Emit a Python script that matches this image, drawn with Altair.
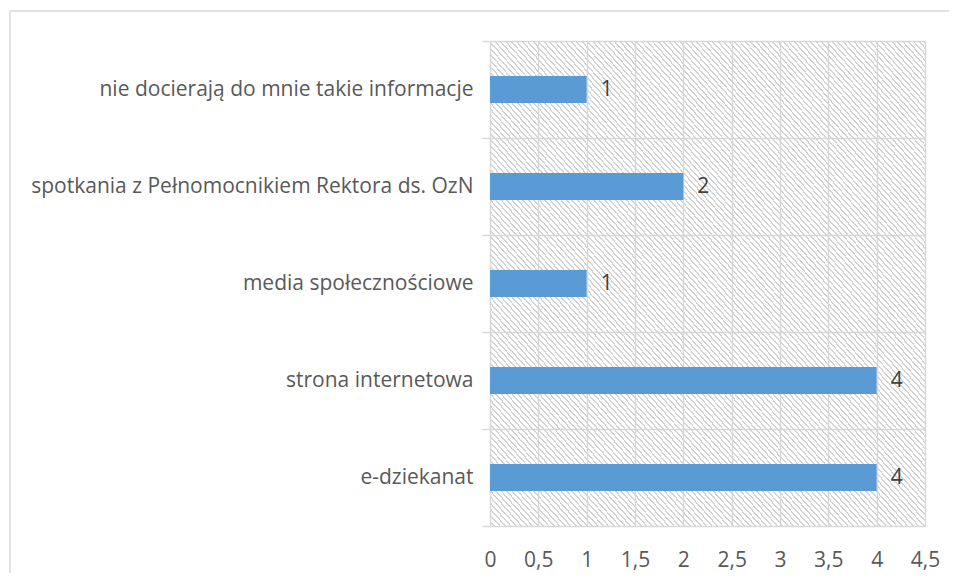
import altair as alt
import pandas as pd

# ---- data ----
categories = [
    "nie docierają do mnie takie informacje",
    "spotkania z Pełnomocnikiem Rektora ds. OzN",
    "media społecznościowe",
    "strona internetowa",
    "e-dziekanat",
]
values = [1, 2, 1, 4, 4]
x_ticks = [0, 0.5, 1, 1.5, 2, 2.5, 3, 3.5, 4, 4.5]

df = pd.DataFrame({"cat": categories, "value": values})
one = pd.DataFrame({"k": [0]})

W, H = 435, 485
PAD = {"left": 482, "top": 33, "right": 24, "bottom": 47}
FONT = "Open Sans"
FS = 21
GRID = "#d9d9d9"

# hatch pattern as a hard-stop linear gradient (decoration only)
N = 160
stops = []
for i in range(N):
    a = i / N
    b = (i + 0.66) / N
    c = (i + 1) / N
    stops += [
        alt.GradientStop(color="rgba(255,255,255,0)", offset=a),
        alt.GradientStop(color="rgba(255,255,255,0)", offset=b),
        alt.GradientStop(color="#d4d4d4", offset=b),
        alt.GradientStop(color="#d4d4d4", offset=c),
    ]
hatch_fill = alt.LinearGradient(gradient="linear", stops=stops, x1=0, y1=1, x2=1, y2=0)

y_enc = alt.Y(
    "cat:N",
    sort=categories,
    scale=alt.Scale(paddingInner=0, paddingOuter=0),
    axis=alt.Axis(
        title=None,
        tickBand="extent",
        ticks=True,
        tickSize=8,
        tickColor=GRID,
        tickWidth=1.5,
        grid=True,
        gridColor=GRID,
        gridWidth=1.5,
        domain=False,
        labelPadding=9,
        labelFontSize=FS,
        labelFont=FONT,
        labelColor="#595959",
        labelLimit=600,
    ),
)
x_enc = alt.X(
    "value:Q",
    scale=alt.Scale(domain=[0, 4.5], nice=False),
    axis=alt.Axis(
        title=None,
        values=x_ticks,
        grid=True,
        gridColor=GRID,
        gridWidth=1.5,
        ticks=False,
        domain=False,
        labelFlush=False,
        labelOverlap=False,
        labelPadding=23,
        labelFontSize=FS,
        labelFont=FONT,
        labelColor="#595959",
        labelExpr="replace(toString(datum.value), '.', ',')",
    ),
)

hatch = alt.Chart(one).mark_rect(fill=hatch_fill, strokeWidth=0).encode(
    x=alt.value(0), x2=alt.value("width"), y=alt.value(0), y2=alt.value("height")
)

bars = alt.Chart(df).mark_bar(
    color="#5b9bd5", height=alt.RelativeBandSize(band=0.28)
).encode(y=y_enc, x=x_enc)

labels = alt.Chart(df).mark_text(
    align="left", baseline="middle", dx=14, fontSize=FS, font=FONT, color="#404040"
).encode(y=alt.Y("cat:N", sort=categories), x="value:Q", text="value:Q")

frame_left = alt.Chart(one).mark_rule(color=GRID, strokeWidth=1.5).encode(
    x=alt.value(-480), y=alt.value(-30), y2=alt.value(H + PAD["bottom"])
)
frame_top = alt.Chart(one).mark_rule(color=GRID, strokeWidth=1.5).encode(
    x=alt.value(-480), x2=alt.value(W + PAD["right"]), y=alt.value(-30)
)

chart = (
    alt.layer(hatch, bars, labels, frame_left, frame_top)
    .properties(
        width=W,
        height=H,
        autosize=alt.AutoSizeParams(type="none"),
        padding=PAD,
        background="white",
    )
    .configure_view(stroke=None)
)

chart.save("out.html", embed_options={"renderer": "svg", "actions": False})
